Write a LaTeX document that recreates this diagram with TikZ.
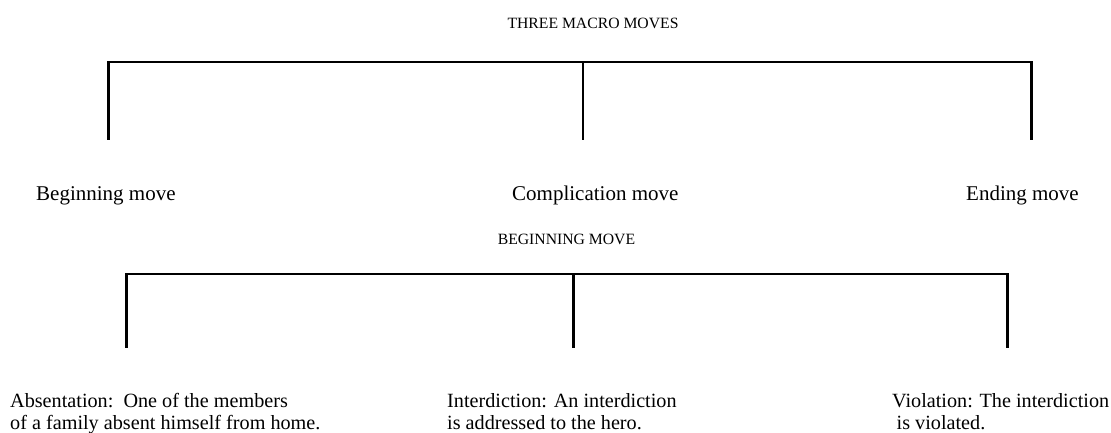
\documentclass[tikz,border=0pt]{standalone}
\usepackage{fontspec}
\setmainfont{Liberation Serif}
\begin{document}
\begin{tikzpicture}[x=1pt,y=-1pt,
  bracket/.style={line width=2.7pt, line cap=rect},
  title/.style={anchor=base, inner sep=0pt, font=\fontsize{15.7}{17}\selectfont},
  movelabel/.style={anchor=base west, inner sep=0pt, font=\fontsize{21}{24}\selectfont},
  desc/.style={anchor=base west, inner sep=0pt, align=left, font=\fontsize{20.2}{22}\selectfont}]
\useasboundingbox (0,0) rectangle (1111,433);
% titles
\node[title] (t1) at (593,29) {THREE MACRO MOVES};
\node[title] (t2) at (566.5,244) {BEGINNING MOVE};
% upper bracket
\coordinate (a1) at (108.5,62);
\coordinate (a2) at (583,62);
\coordinate (a3) at (1031.5,62);
\coordinate (b1) at (108.5,139);
\coordinate (b2) at (583,139);
\coordinate (b3) at (1031.5,139);
\draw[bracket] (b1) -- (a1) -- (a3) -- (b3);
\draw[bracket] (a2) -- (b2);
% labels
\node[movelabel] (m1) at (36,200) {Beginning move};
\node[movelabel] (m2) at (512,200) {Complication move};
\node[movelabel] (m3) at (966,200) {Ending move};
% lower bracket
\coordinate (c1) at (126.7,274);
\coordinate (c2) at (573.3,274);
\coordinate (c3) at (1007.7,274);
\coordinate (d1) at (126.7,347);
\coordinate (d2) at (573.3,347);
\coordinate (d3) at (1007.7,347);
\draw[bracket] (d1) -- (c1) -- (c3) -- (d3);
\draw[bracket] (c2) -- (d2);
% descriptions (base anchor = last line)
\node[desc] (e1) at (10,429) {Absentation:\ \ One of the members\\of a family absent himself from home.};
\node[desc] (e2) at (447,429) {Interdiction: An interdiction\\is addressed to the hero.};
\node[desc] (e3) at (892,429) {Violation: The interdiction\\\hspace{4.5pt}is violated.};
\end{tikzpicture}
\end{document}
